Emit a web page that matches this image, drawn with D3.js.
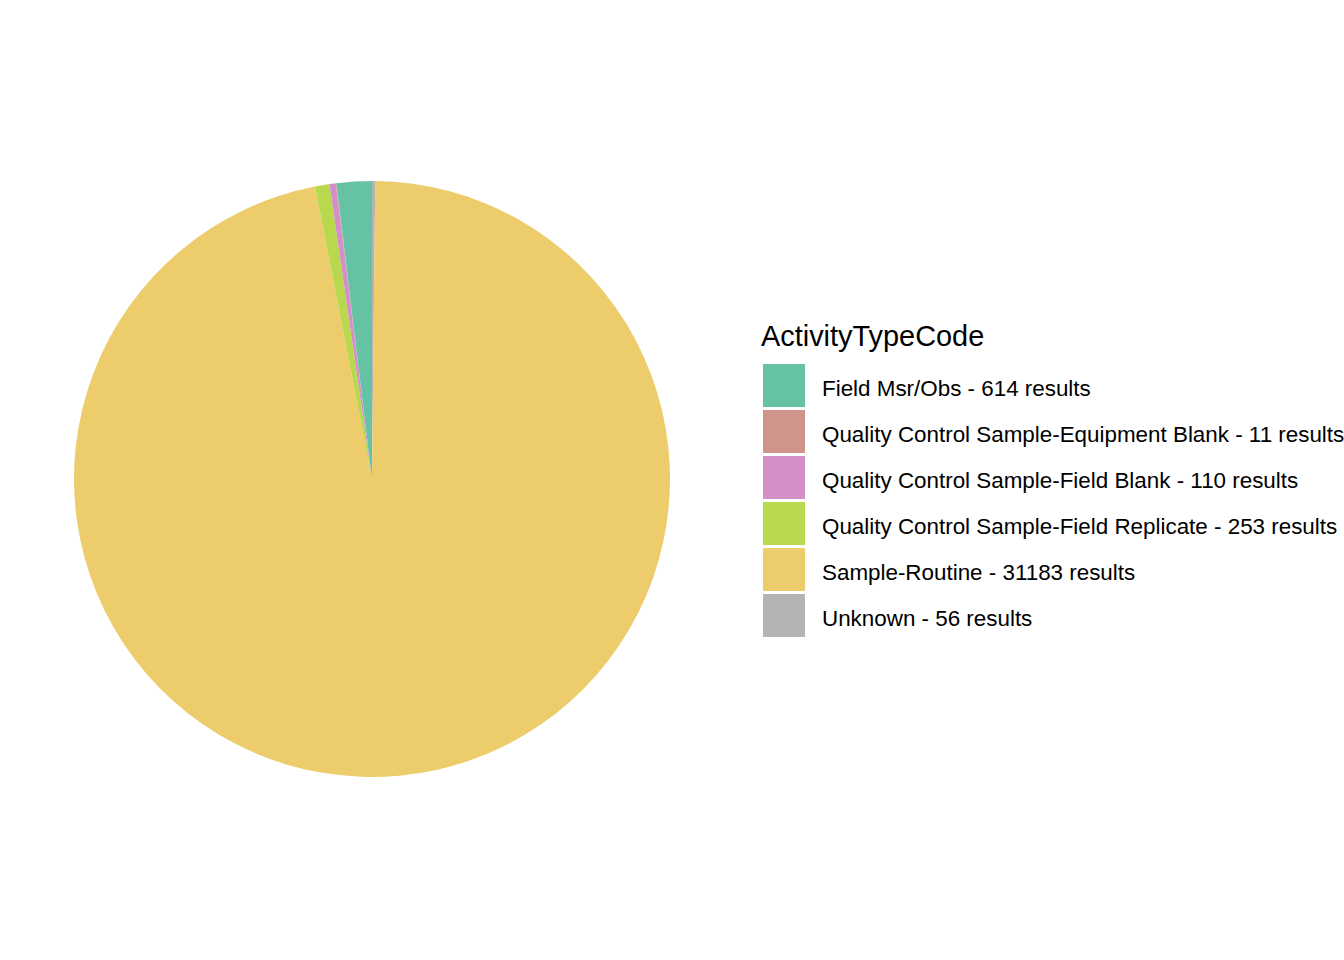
<!DOCTYPE html>
<html><head><meta charset="utf-8">
<script src="https://cdn.jsdelivr.net/npm/d3@7"></script>
<style>body{margin:0;background:#fff}svg{display:block}text{font-family:"Liberation Sans",Arial,sans-serif}</style>
</head><body>
<svg id="c" width="1344" height="960"></svg>
<script>
const categories = ["Field Msr/Obs","Quality Control Sample-Equipment Blank","Quality Control Sample-Field Blank","Quality Control Sample-Field Replicate","Sample-Routine","Unknown"];
const values = [614, 11, 110, 253, 31183, 56];
const colors = ["#66C2A5","#CF948C","#D48FC8","#B8D84E","#EDCC6C","#B3B3B3"];
const legendTitle = "ActivityTypeCode";

const svg = d3.select("#c");
svg.append("rect").attr("width",1344).attr("height",960).attr("fill","#fff");
const color = d3.scaleOrdinal().domain(categories).range(colors);

// ggplot stacking: last level at the bottom (starting at 12 o'clock, clockwise)
const data = categories.map((c,i)=>({cat:c,value:values[i]})).reverse();
const pie = d3.pie().sort(null).value(d=>d.value).startAngle(0).endAngle(2*Math.PI);
const arc = d3.arc().innerRadius(0).outerRadius(298);
const g = svg.append("g").attr("transform","translate(372,479)");
g.selectAll("path").data(pie(data)).join("path")
  .attr("d",arc).attr("fill",d=>color(d.data.cat));

const lg = svg.append("g");
lg.append("text").attr("x",761).attr("y",346).attr("font-size",28.9).attr("fill","#000").text(legendTitle);
const items = lg.selectAll("g.item").data(categories).join("g").attr("class","item")
  .attr("transform",(d,i)=>`translate(763,${364+i*46})`);
items.append("rect").attr("width",42).attr("height",43).attr("fill",d=>color(d));
items.append("text").attr("x",59).attr("y",31.5).attr("font-size",22.4).attr("fill","#000")
  .text((d,i)=>`${d} - ${values[i]} results`);
</script>
</body></html>
